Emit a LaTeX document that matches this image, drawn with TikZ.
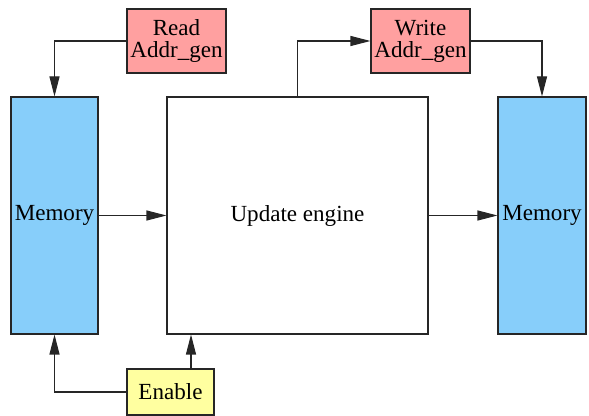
\documentclass[tikz,border=0pt]{standalone}
\usepackage{fontspec}
\setmainfont{Liberation Serif}
\usetikzlibrary{arrows.meta}
\definecolor{addrpink}{RGB}{255,160,160}
\definecolor{memblue}{RGB}{135,206,250}
\definecolor{enyellow}{RGB}{255,255,160}
\begin{document}
\begin{tikzpicture}[x=0.75pt,y=-0.75pt,
  blk/.style={draw=black!85,line width=0.8pt,inner sep=0pt,align=center,
    font=\fontsize{17.3}{16.5}\selectfont},
  arr/.style={draw=black!85,line width=0.8pt,-{Triangle[length=15pt,width=7.5pt]}}]
\useasboundingbox (0,0) rectangle (589,416);
% blocks
\node[blk,fill=memblue,minimum width=87*0.75pt,minimum height=237*0.75pt] (memin) at (54.5,215.5) {Memory};
\node[blk,fill=white,minimum width=261*0.75pt,minimum height=237*0.75pt] (engine) at (297.5,215.5) {Update engine};
\node[blk,fill=memblue,minimum width=88*0.75pt,minimum height=237*0.75pt] (memout) at (542,215.5) {Memory};
\node[blk,fill=addrpink,minimum width=99*0.75pt,minimum height=64*0.75pt] (rdaddr) at (176.5,41) {Read\\Addr\_gen};
\node[blk,fill=addrpink,minimum width=99*0.75pt,minimum height=64*0.75pt] (wraddr) at (420.5,41) {Write\\Addr\_gen};
\node[blk,fill=enyellow,minimum width=87*0.75pt,minimum height=46*0.75pt] (enable) at (170.5,392) {Enable};
% connections
\draw[arr] (rdaddr.west) -| (memin.north);
\draw[arr] (engine.north) |- (wraddr.west);
\draw[arr] (wraddr.east) -| (memout.north);
\draw[arr] (memin) -- (engine);
\draw[arr] (engine) -- (memout);
\draw[arr] (enable.west) -| (memin.south);
\coordinate (enup) at (191,369);
\draw[arr] (enup) -- (enup |- engine.south);
\end{tikzpicture}
\end{document}
